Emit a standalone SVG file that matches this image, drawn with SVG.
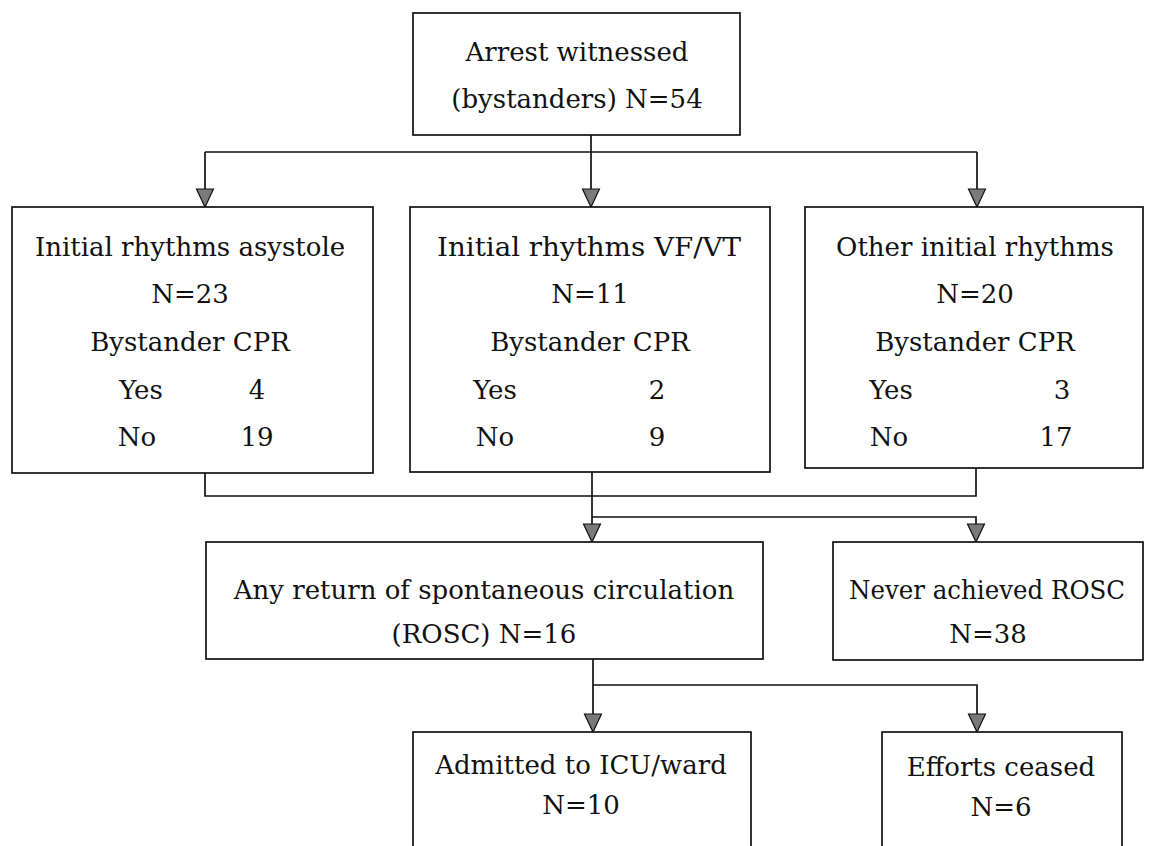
<svg xmlns="http://www.w3.org/2000/svg" width="1159" height="846" viewBox="0 0 1159 846">
<defs>
<style>
.box{fill:#fff;stroke:#111;stroke-width:1.7}
.t{font-family:"DejaVu Serif","Liberation Serif",serif;font-size:26px;fill:#111;text-anchor:middle}
.c{fill:none;stroke:#111;stroke-width:1.7}
.a{marker-end:url(#tri)}
</style>
<marker id="tri" viewBox="0 0 20 20" markerWidth="20" markerHeight="20" refX="19" refY="10" orient="auto" markerUnits="userSpaceOnUse" overflow="visible">
<path d="M1,1.5 L19,10 L1,18.5 Z" fill="#7a7a7a" stroke="#111" stroke-width="1.2"/>
</marker>
</defs>
<rect width="1159" height="846" fill="#fff"/>
<g id="connectors">
<path class="c" d="M205,152 H977"/>
<path class="c a" d="M591,135 V207"/>
<path class="c a" d="M205,152 V207"/>
<path class="c a" d="M977,152 V207"/>
<path class="c" d="M205,473 V496 H976 V468"/>
<path class="c a" d="M592,472 V542"/>
<path class="c a" d="M592,517 H976 V542"/>
<path class="c a" d="M593,659 V732"/>
<path class="c a" d="M593,685 H977 V732"/>
</g>
<g id="n-arrest">
<rect class="box" x="413" y="13" width="327" height="122"/>
<text class="t" x="577" y="61">Arrest witnessed</text>
<text class="t" x="577" y="108">(bystanders) N=54</text>
</g>
<g id="n-asystole">
<rect class="box" x="12" y="207" width="361" height="266"/>
<text class="t" x="190" y="256">Initial rhythms asystole</text>
<text class="t" x="190" y="303">N=23</text>
<text class="t" x="190" y="351">Bystander CPR</text>
<text class="t" x="141" y="399">Yes</text>
<text class="t" x="257" y="399">4</text>
<text class="t" x="137" y="446">No</text>
<text class="t" x="257" y="446">19</text>
</g>
<g id="n-vfvt">
<rect class="box" x="410" y="207" width="360" height="265"/>
<text class="t" x="589" y="256" textLength="304" lengthAdjust="spacingAndGlyphs">Initial rhythms VF/VT</text>
<text class="t" x="590" y="303">N=11</text>
<text class="t" x="590" y="351">Bystander CPR</text>
<text class="t" x="495" y="399">Yes</text>
<text class="t" x="657" y="399">2</text>
<text class="t" x="495" y="446">No</text>
<text class="t" x="657" y="446">9</text>
</g>
<g id="n-other">
<rect class="box" x="805" y="207" width="338" height="261"/>
<text class="t" x="975" y="256">Other initial rhythms</text>
<text class="t" x="975" y="303">N=20</text>
<text class="t" x="975" y="351">Bystander CPR</text>
<text class="t" x="891" y="399">Yes</text>
<text class="t" x="1062" y="399">3</text>
<text class="t" x="889" y="446">No</text>
<text class="t" x="1056" y="446">17</text>
</g>
<g id="n-rosc">
<rect class="box" x="206" y="542" width="557" height="117"/>
<text class="t" x="484" y="599">Any return of spontaneous circulation</text>
<text class="t" x="484" y="643">(ROSC) N=16</text>
</g>
<g id="n-never">
<rect class="box" x="833" y="542" width="310" height="118"/>
<text class="t" x="987" y="599" textLength="276" lengthAdjust="spacingAndGlyphs">Never achieved ROSC</text>
<text class="t" x="988" y="643">N=38</text>
</g>
<g id="n-admitted">
<rect class="box" x="413" y="732" width="338" height="130"/>
<text class="t" x="581" y="774">Admitted to ICU/ward</text>
<text class="t" x="581" y="814">N=10</text>
</g>
<g id="n-efforts">
<rect class="box" x="882" y="732" width="240" height="130"/>
<text class="t" x="1001" y="776">Efforts ceased</text>
<text class="t" x="1001" y="816">N=6</text>
</g>
</svg>
